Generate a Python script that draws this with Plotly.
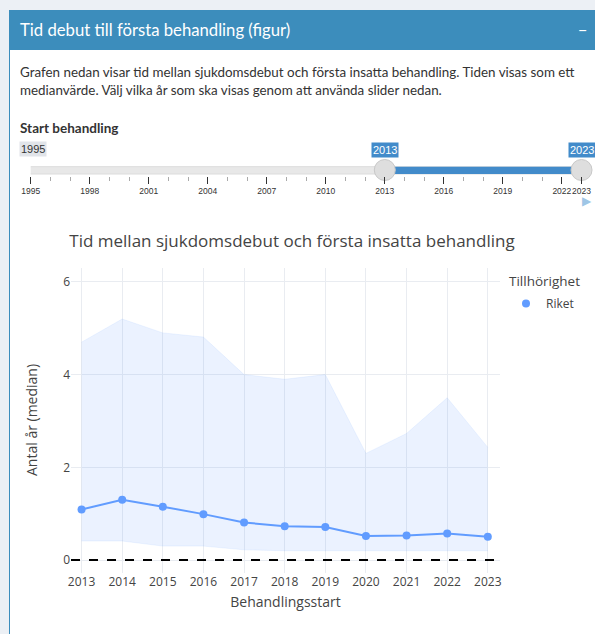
import plotly.graph_objects as go

# ---------------- data ----------------
years = [2013, 2014, 2015, 2016, 2017, 2018, 2019, 2020, 2021, 2022, 2023]
median = [1.09, 1.30, 1.15, 0.99, 0.81, 0.73, 0.71, 0.52, 0.53, 0.57, 0.50]
upper = [4.70, 5.20, 4.90, 4.81, 4.00, 3.90, 4.00, 2.30, 2.73, 3.50, 2.43]
lower = [0.41, 0.41, 0.30, 0.30, 0.22, 0.20, 0.20, 0.20, 0.20, 0.20, 0.20]
series_name = "Riket"
legend_title = "Tillhörighet"

slider_years = [1995, 1996, 1997, 1998, 1999, 2000, 2001, 2002, 2003, 2004,
                2005, 2006, 2007, 2008, 2009, 2010, 2011, 2012, 2013, 2014,
                2015, 2016, 2017, 2018, 2019, 2020, 2021, 2022, 2023]
slider_major = [1995, 1998, 2001, 2004, 2007, 2010, 2013, 2016, 2019, 2022, 2023]
slider_major_labels = ["1995", "1998", "2001", "2004", "2007", "2010", "2013",
                       "2016", "2019", "2022", "2023"]
slider_selected = [2013, 2023]

y_ticks = [0, 2, 4, 6]

header_text = "Tid debut till första behandling (figur)"
body_line1 = "Grafen nedan visar tid mellan sjukdomsdebut och första insatta behandling. Tiden visas som ett"
body_line2 = "medianvärde. Välj vilka år som ska visas genom att använda slider nedan."
slider_title = "Start behandling"
chart_title = "Tid mellan sjukdomsdebut och första insatta behandling"

# ---------------- layout helpers ----------------
W, H = 595, 634
def px(x):
    return x / W
def py(y):
    return 1 - y / H

BLUE = "#619CFF"
UI_FONT = "Lato"
PLOT_FONT = "Open Sans"

fig = go.Figure()

# ribbon
fig.add_trace(go.Scatter(x=years, y=lower, mode="lines",
                         line=dict(color="rgba(97,156,255,0.10)", width=1),
                         showlegend=False, hoverinfo="skip", xaxis="x", yaxis="y"))
fig.add_trace(go.Scatter(x=years, y=upper, mode="lines", fill="tonexty",
                         fillcolor="rgba(97,156,255,0.13)",
                         line=dict(color="rgba(97,156,255,0.10)", width=1),
                         showlegend=False, hoverinfo="skip", xaxis="x", yaxis="y"))
# median line + markers
fig.add_trace(go.Scatter(x=years, y=median, mode="lines",
                         line=dict(color=BLUE, width=2),
                         showlegend=False, xaxis="x", yaxis="y"))
fig.add_trace(go.Scatter(x=years, y=median, mode="markers", name=series_name,
                         marker=dict(color=BLUE, size=8),
                         xaxis="x", yaxis="y"))

# slider handles
fig.add_trace(go.Scatter(x=slider_selected, y=[6, 6], mode="markers",
                         marker=dict(color="#dedede", size=21,
                                     line=dict(color="#c8c8c8", width=1)),
                         showlegend=False, hoverinfo="skip", xaxis="x2", yaxis="y2",
                         cliponaxis=False))

shapes = [
    # page background strips
    dict(type="rect", xref="paper", yref="paper", x0=0, x1=1, y0=py(10), y1=1,
         fillcolor="#ecf0f5", line=dict(width=0), layer="below"),
    dict(type="rect", xref="paper", yref="paper", x0=0, x1=px(9), y0=0, y1=1,
         fillcolor="#ecf0f5", line=dict(width=0), layer="below"),
    # box border left
    dict(type="line", xref="paper", yref="paper", x0=px(9.5), x1=px(9.5), y0=0, y1=py(50),
         line=dict(color="#3c8dbc", width=1)),
    # header
    dict(type="rect", xref="paper", yref="paper", x0=px(9), x1=1, y0=py(50), y1=py(10),
         fillcolor="#3c8dbc", line=dict(width=0), layer="below"),
    # slider track
    dict(type="rect", xref="x2", yref="y2", x0=slider_years[0] - 0.54, x1=slider_years[-1] + 0.54,
         y0=2, y1=9.3, fillcolor="#e8e8e8", line=dict(color="#dcdcdc", width=1), layer="below"),
    # selected range bar
    dict(type="rect", xref="x2", yref="y2", x0=slider_selected[0], x1=slider_selected[1],
         y0=2, y1=9.3, fillcolor="#428bca", line=dict(width=0), layer="below"),
    # dashed zero reference line
    dict(type="line", xref="x domain", yref="y", x0=0, x1=1, y0=0, y1=0,
         line=dict(color="black", width=2, dash="dash")),
]

annotations = [
    dict(text=header_text, xref="paper", yref="paper", x=px(18), y=py(30),
         xanchor="left", yanchor="middle", showarrow=False,
         font=dict(family=UI_FONT, size=16.7, color="white")),
    dict(text="−", xref="paper", yref="paper", x=px(582.5), y=py(29),
         xanchor="center", yanchor="middle", showarrow=False,
         font=dict(family=UI_FONT, size=16, color="white")),
    dict(text=body_line1, xref="paper", yref="paper", x=px(18), y=py(72),
         xanchor="left", yanchor="middle", showarrow=False,
         font=dict(family=UI_FONT, size=13.4, color="#333")),
    dict(text=body_line2, xref="paper", yref="paper", x=px(18), y=py(90),
         xanchor="left", yanchor="middle", showarrow=False,
         font=dict(family=UI_FONT, size=13.4, color="#333")),
    dict(text="<b>" + slider_title + "</b>", xref="paper", yref="paper", x=px(18), y=py(128),
         xanchor="left", yanchor="middle", showarrow=False,
         font=dict(family=UI_FONT, size=13.5, color="#333")),
    # min label
    dict(text=str(slider_years[0]), xref="paper", yref="y2", x=px(19), y=27,
         xanchor="left", yanchor="middle", showarrow=False, bgcolor="#e1e4e9",
         borderpad=1, font=dict(family="Liberation Sans", size=11, color="#333")),
    # play arrow
    dict(text="▶", xref="paper", yref="paper", x=px(587), y=py(201),
         xanchor="center", yanchor="middle", showarrow=False,
         font=dict(family="DejaVu Sans", size=12, color="#9fc6e6")),
    # legend title
    dict(text=legend_title, xref="paper", yref="paper", x=px(507), y=py(281),
         xanchor="left", yanchor="middle", showarrow=False,
         font=dict(family=PLOT_FONT, size=13.5, color="#444")),
    # y axis title
    dict(text="Antal år (median)", xref="paper", yref="paper", x=px(31), y=py(420),
         xanchor="center", yanchor="middle", showarrow=False, textangle=-90,
         font=dict(family=PLOT_FONT, size=14, color="#444")),
]
for yv in slider_selected:
    annotations.append(dict(text=str(yv), xref="x2", yref="y2", x=yv, y=26,
                            xanchor="center", yanchor="middle", showarrow=False,
                            bgcolor="#428bca", borderpad=1,
                            font=dict(family="Liberation Sans", size=11, color="white")))

fig.update_layout(
    template="none",
    width=W, height=H, autosize=False,
    margin=dict(l=0, r=0, t=0, b=0, autoexpand=False),
    paper_bgcolor="white", plot_bgcolor="white",
    font=dict(family=PLOT_FONT, color="#444"),
    title=dict(text=chart_title, x=px(292), y=py(241), xref="paper", yref="paper",
               xanchor="center", yanchor="middle",
               font=dict(family=PLOT_FONT, size=17, color="#444")),
    xaxis=dict(domain=[px(71), px(500)], range=[2012.74, 2023.3], anchor="y",
               tickvals=years, ticktext=[str(v) for v in years], automargin=False,
               showgrid=True, gridcolor="#e9ecf1", zeroline=False, showline=False,
               ticks="", tickfont=dict(size=12, color="#444"),
               title=dict(text="Behandlingsstart", font=dict(size=14, color="#444"), standoff=8)),
    yaxis=dict(domain=[py(573), py(268)], range=[-0.28, 6.30], anchor="x",
               tickvals=y_ticks, showgrid=True, gridcolor="#e9ecf1", automargin=False,
               zeroline=True, zerolinecolor="#e9ecf1", showline=False,
               ticks="", tickfont=dict(size=12, color="#444")),
    xaxis2=dict(domain=[px(30.7), px(581.5)], range=[slider_years[0], slider_years[-1]],
                anchor="y2", tickvals=slider_major, ticktext=slider_major_labels,
                tickangle=0, automargin=False,
                ticks="outside", ticklen=7, tickwidth=1, tickcolor="#333",
                minor=dict(tickvals=slider_years, ticks="outside", ticklen=4,
                           tickcolor="#aaa", tickwidth=1, showgrid=False),
                showgrid=False, zeroline=False, showline=False, fixedrange=True,
                tickfont=dict(family="Liberation Sans", size=8.5, color="#333")),
    yaxis2=dict(domain=[py(176), py(136)], range=[0, 40], anchor="x2",
                visible=False, fixedrange=True, automargin=False),
    legend=dict(x=px(506), y=py(289), xanchor="left", yanchor="top",
                font=dict(size=12, color="#444"), bgcolor="rgba(0,0,0,0)"),
    shapes=shapes,
    annotations=annotations,
    hovermode=False,
)

fig.write_html("out.html", config={"displayModeBar": False, "responsive": False},
               post_script="document.body.style.margin='0';document.body.style.overflow='hidden';")
